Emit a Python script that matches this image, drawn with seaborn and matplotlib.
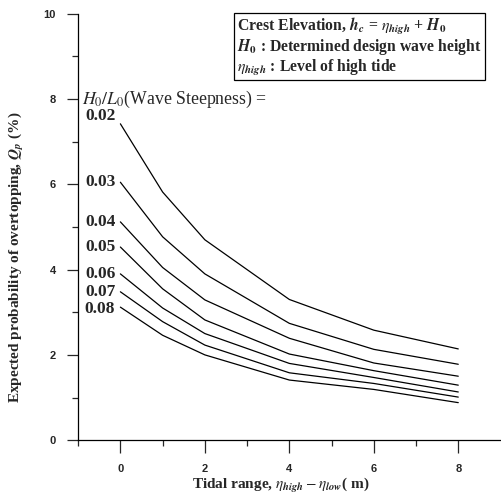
import numpy as np
import pandas as pd
import matplotlib
matplotlib.use("Agg")
import matplotlib.pyplot as plt
import seaborn as sns

# tidal range (m)
tidal_range = [0, 1, 2, 4, 6, 8]
steepness = ["0.02", "0.03", "0.04", "0.05", "0.06", "0.07", "0.08"]
# expected probability of overtopping Qp (%)
qp_002 = [7.42, 5.82, 4.70, 3.30, 2.58, 2.14]
qp_003 = [6.05, 4.77, 3.90, 2.74, 2.13, 1.78]
qp_004 = [5.12, 4.05, 3.29, 2.39, 1.81, 1.50]
qp_005 = [4.53, 3.55, 2.82, 2.02, 1.63, 1.29]
qp_006 = [3.90, 3.10, 2.50, 1.80, 1.47, 1.13]
qp_007 = [3.48, 2.78, 2.23, 1.58, 1.33, 1.01]
qp_008 = [3.12, 2.46, 2.00, 1.41, 1.19, 0.88]
all_qp = [qp_002, qp_003, qp_004, qp_005, qp_006, qp_007, qp_008]

rows = []
for s, vals in zip(steepness, all_qp):
    for x, v in zip(tidal_range, vals):
        rows.append({"Tidal": x, "Qp": v, "Steep": s})
df = pd.DataFrame(rows)

sns.set_style("ticks")
plt.rcParams["mathtext.fontset"] = "stix"
plt.rcParams["font.family"] = ["Liberation Serif", "DejaVu Serif"]

fig, ax = plt.subplots(figsize=(5.01, 4.94), dpi=100)
fig.subplots_adjust(left=0.156, right=0.999, bottom=0.109, top=0.972)

sns.lineplot(data=df, x="Tidal", y="Qp", hue="Steep",
             palette={s: "black" for s in steepness},
             linewidth=0.9, legend=False, ax=ax)

# small vertical nudges of the curve labels
label_nudge = [0.18, 0, 0, 0, 0, 0, -0.05]
for s, vals, dy in zip(steepness, all_qp, label_nudge):
    ax.text(-0.12, vals[0] + dy, s, ha="right", va="center",
            fontsize=12.5, fontweight="bold", family="Liberation Serif")

ax.text(-0.9, 8.0, r"$H_0/L_0$(Wave Steepness) =", ha="left", va="center",
        fontsize=12.8, family="Liberation Serif")

box_txt = ("Crest Elevation, $\\mathbfit{h_c}$ = $\\eta_{\\mathbfit{high}}$ + $\\mathbfit{H}_\\mathbf{0}$\n"
           "$\\mathbfit{H}_\\mathbf{0}$ : Determined design wave height\n"
           "$\\eta_{\\mathbfit{high}}$ : Level of high tide")
ax.text(2.76, 9.95, box_txt, ha="left", va="top", fontsize=11.3,
        fontweight="bold", family="Liberation Serif", linespacing=1.05,
        bbox=dict(boxstyle="square,pad=0.2", fc="white", ec="black", lw=0.9))

ax.set_xlim(-1, 9)
ax.set_ylim(0, 10)
ax.set_xticks([0, 2, 4, 6, 8])
ax.set_xticks([-1, 1, 3, 5, 7], minor=True)
ax.set_yticks([0, 2, 4, 6, 8, 10])
ax.set_yticks([1, 3, 5, 7, 9], minor=True)
ax.tick_params(axis="y", which="major", length=8, width=0.9, pad=8)
ax.tick_params(axis="x", which="major", length=9, width=0.9, pad=8)
ax.tick_params(which="minor", length=4, width=0.9)
for lab in ax.get_xticklabels() + ax.get_yticklabels():
    lab.set_fontfamily("Liberation Sans")
    lab.set_fontweight("bold")
    lab.set_fontsize(8)

ax.set_xlabel(r"Tidal range, $\eta_{\mathbfit{high}} - \eta_{\mathbfit{low}}$( m)",
              fontsize=11, fontweight="bold")
ax.set_ylabel(r"Expected probability of overtopping, $\mathbfit{Q_p}$ (%)",
              fontsize=11, fontweight="bold")
ax.xaxis.set_label_coords(0.48, -0.085)
ax.yaxis.set_label_coords(-0.124, 0.43)

sns.despine(ax=ax)
for sp in ["left", "bottom"]:
    ax.spines[sp].set_linewidth(0.9)
    ax.spines[sp].set_color("black")

plt.savefig("out.png", dpi=100)
